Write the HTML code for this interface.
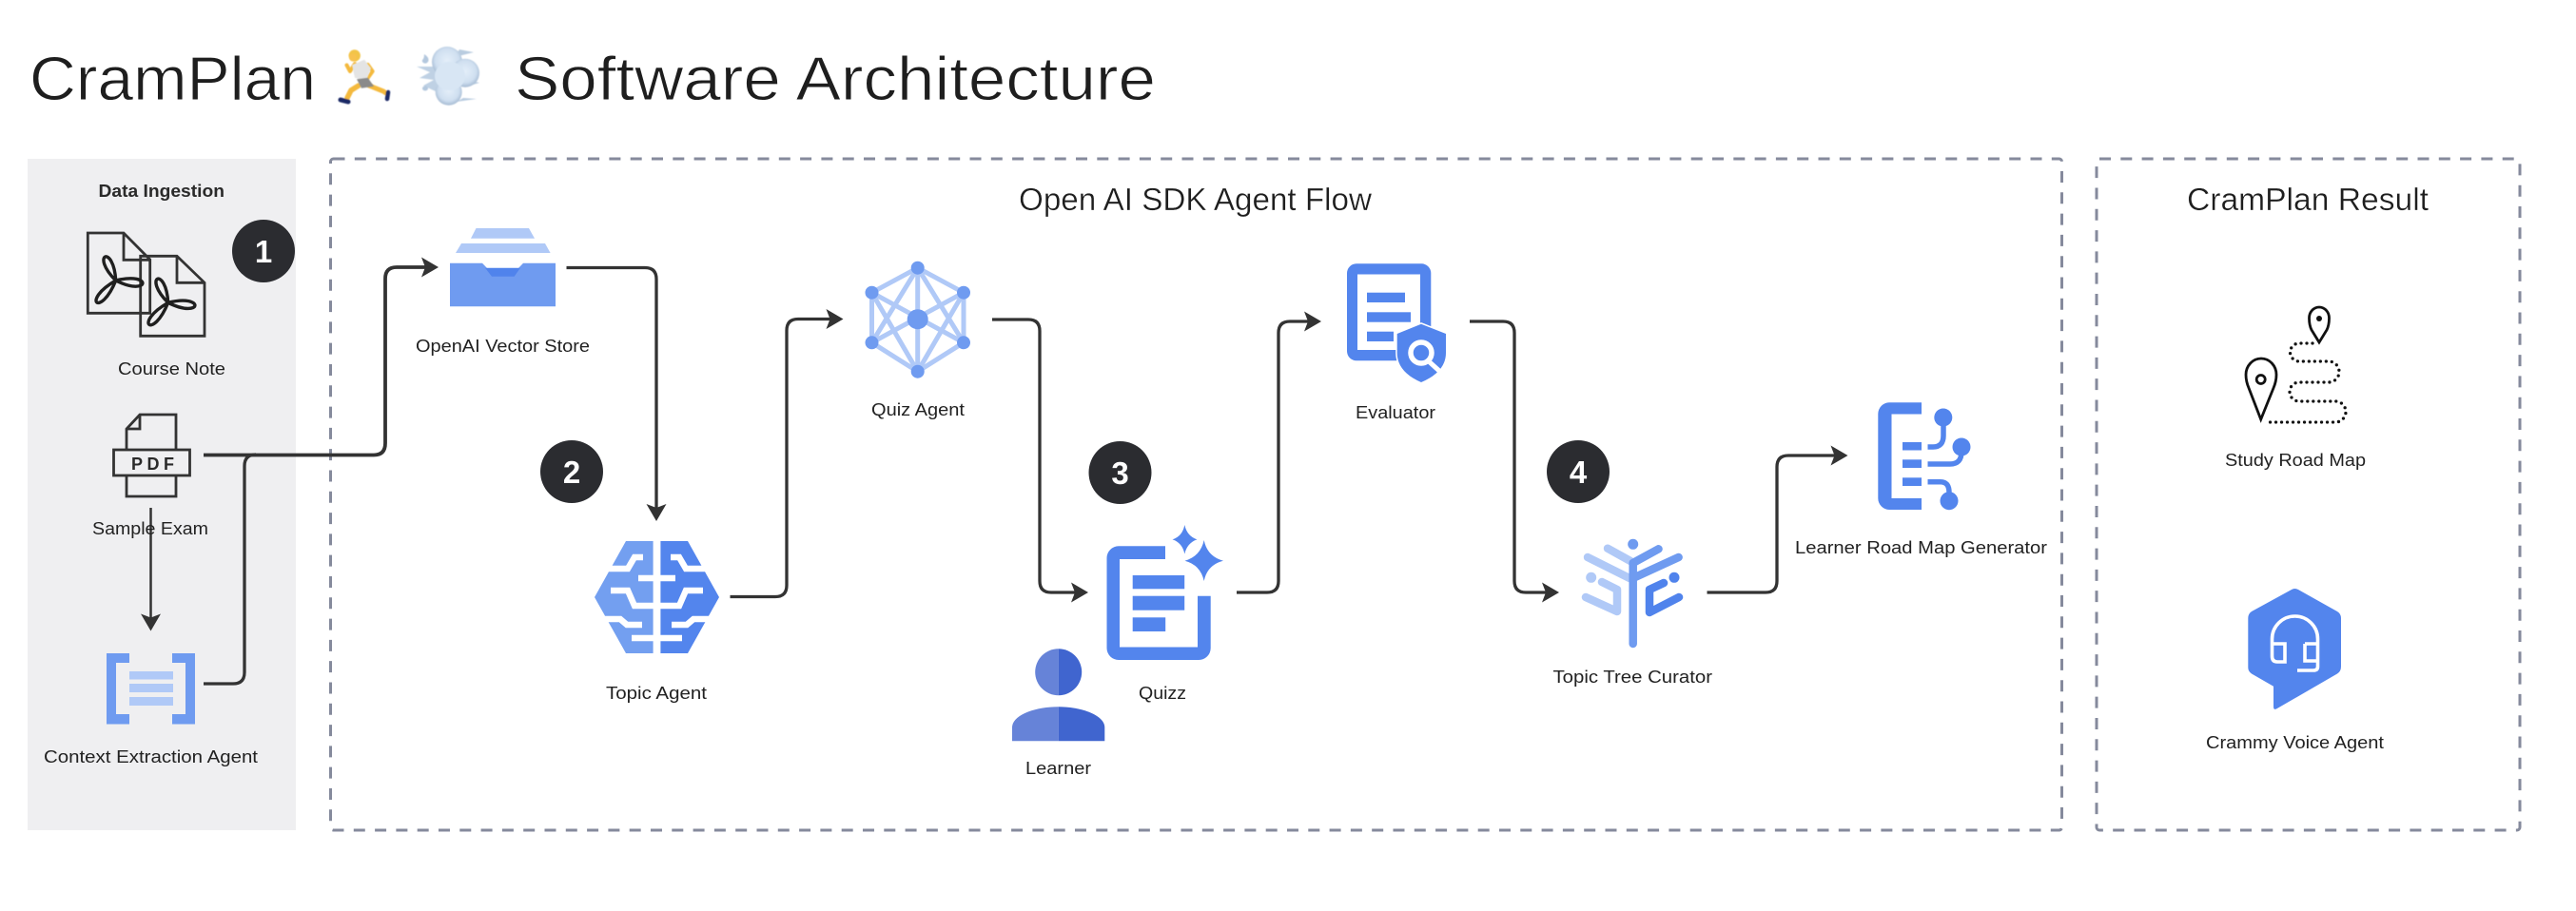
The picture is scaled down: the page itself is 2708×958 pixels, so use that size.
<!DOCTYPE html>
<html><head><meta charset="utf-8"><title>CramPlan Software Architecture</title>
<style>
html,body{margin:0;padding:0;background:#fff;width:2708px;height:958px;overflow:hidden}
svg{display:block}
text{font-family:"Liberation Sans",sans-serif}
.l{font-size:18.5px;fill:#222}
.h{font-size:33px;fill:#1e1e1e;stroke:#fff;stroke-width:.35px}
.t{font-size:65px;fill:#1e1e1e;stroke:#fff;stroke-width:.9px}
.n{font-size:33px;font-weight:bold;fill:#fff;text-anchor:middle}
.c{fill:none;stroke:#333;stroke-width:3.3}
.a{fill:#333}
</style></head><body>
<svg width="2708" height="958" viewBox="0 0 2708 958" xmlns="http://www.w3.org/2000/svg">
<defs>
<radialGradient id="cl" cx="50%" cy="45%" r="55%"><stop offset="0" stop-color="#e4eef9"/><stop offset=".7" stop-color="#cfdff0"/><stop offset="1" stop-color="#a5bad2"/></radialGradient>
<filter id="sf" x="-10%" y="-10%" width="120%" height="120%"><feGaussianBlur stdDeviation=".5"/></filter>
</defs>
<rect width="2708" height="958" fill="#fff"/>

<!-- Title -->
<text class="t" x="31" y="105" textLength="301" lengthAdjust="spacingAndGlyphs">CramPlan</text>
<text class="t" x="541" y="105" textLength="674" lengthAdjust="spacingAndGlyphs">Software Architecture</text>

<!-- Runner -->
<g stroke-linecap="round" stroke-linejoin="round" fill="none" filter="url(#sf)">
<path d="M388,90 L403,96 L406,98" stroke="#f4b93c" stroke-width="5"/>
<path d="M377,90 L369,95 L365,103" stroke="#f4b93c" stroke-width="5.500"/>
<path d="M373,67 L368,75 L364.500,68.500" stroke="#f4b93c" stroke-width="4"/>
<path d="M386.700,68 L391.700,75 L386.700,82" stroke="#f4b93c" stroke-width="4"/>
<path d="M358,105 L366,107" stroke="#1b2a66" stroke-width="5"/>
<path d="M408,97 L407,104" stroke="#1b2a66" stroke-width="4.500"/>
</g>
<g filter="url(#sf)">
<polygon points="370,68.300 383,62.700 390,71.700 385,85 373,81.700" fill="#e4e4e4"/>
<polygon points="375,83.300 386.700,81.700 393,90.700 380,92.700" fill="#8a8a8a"/>
<circle cx="372.700" cy="58.500" r="6.200" fill="#f2c447"/>
<circle cx="371" cy="60.500" r="4" fill="#f7c24f"/>
</g>

<!-- Cloud -->
<g filter="url(#sf)">
<path d="M483,52 L498,55 L478,60 Z M487,103 L501,104 L480,107 Z M500,86 L504,87 L494,90 Z" fill="#b9cce0"/>
<path d="M462,70 L438,70 L452,76 L441,82 L456,84 L445,90 L462,98 Z" fill="#bfd1e4"/>
<circle cx="470" cy="65" r="16" fill="url(#cl)"/>
<circle cx="471.700" cy="96.700" r="14" fill="url(#cl)"/>
<circle cx="489" cy="76.700" r="15" fill="url(#cl)"/>
<ellipse cx="473" cy="80" rx="16" ry="15" fill="#d8e6f4"/>
<path d="M446,57 q5,3 4.500,7 q-2,4 -5.500,2 q-2.500,-2 0,-4 q1,-2 1,-5 Z" fill="#b4c8de"/>
<ellipse cx="447" cy="93" rx="3" ry="2.500" fill="#b4c8de"/>
</g>

<!-- Containers -->
<rect x="29" y="167" width="282" height="706" fill="#efeff1"/>
<rect x="347.500" y="167" width="1820" height="706" rx="3" fill="none" stroke="#858a9c" stroke-width="3" stroke-dasharray="12 10.300"/>
<rect x="2204" y="167" width="445" height="706" rx="3" fill="none" stroke="#858a9c" stroke-width="3" stroke-dasharray="12 10.300"/>

<text x="103.500" y="207" font-size="18" font-weight="bold" fill="#2a2a2a" textLength="132.500" lengthAdjust="spacingAndGlyphs">Data Ingestion</text>
<text class="h" x="1071" y="221" textLength="371" lengthAdjust="spacingAndGlyphs">Open AI SDK Agent Flow</text>
<text class="h" x="2299" y="221" textLength="254" lengthAdjust="spacingAndGlyphs">CramPlan Result</text>

<!-- PDFs -->
<g fill="none" stroke="#333" stroke-width="2.800" stroke-linejoin="miter">
<path d="M92.300,245 H130 L157.700,273 V329.300 H92.300 Z M130,245 V273.300 H157.700"/>
<path d="M147.700,269.300 H186 L215,297.300 V353.300 H147.700 Z M186,269.300 V297.300 H215"/>
</g>
<g fill="none" stroke="#1f1f1f" stroke-width="3.400" stroke-linejoin="round">
<path d="M121.700,295 c-2.200,-39 -27.600,-27.600 0,0 c36.200,17.900 39,-9.900 0,0 c-16,39.800 -37.200,21.400 0,0"/>
<path d="M176.700,318.300 c-2.200,-39 -27.600,-27.600 0,0 c36.200,17.900 39,-9.900 0,0 c-16,39.800 -37.200,21.400 0,0"/>
</g>

<!-- Sample PDF -->
<g fill="none" stroke="#333" stroke-width="2.800">
<path d="M133,473 V451 L147,436 H185 V473 M133,500 V522 H185 V500"/>
<path d="M133,451 H147 V436"/>
<rect x="119.500" y="473" width="80" height="27"/>
</g>
<text x="138" y="494" font-size="18" font-weight="bold" fill="#2a2a2a" textLength="45" lengthAdjust="spacing">PDF</text>

<!-- Context extraction -->
<g fill="#6f9bf0">
<path d="M112,687 H136 V697 H122 V751 H136 V761.500 H112 Z"/>
<path d="M205,687 H181 V697 H195 V751 H181 V761.500 H205 Z"/>
</g>
<g fill="#b0c9f7"><rect x="136" y="706" width="46" height="8.500"/><rect x="136" y="719" width="46" height="9"/><rect x="136" y="733" width="46" height="9"/></g>

<!-- Vector store -->
<polygon points="500.500,240 556,240 562,250.700 495,250.700" fill="#b0c9f7"/>
<polygon points="485,256 573,256 578.600,266 479,266" fill="#b0c9f7"/>
<polygon points="473,276.700 507,276.700 512,282 545,282 550,276.700 584,276.700 584,322.300 473,322.300" fill="#6f9bf0"/>
<polygon points="510,281.700 547,281.700 540.600,290.700 517,290.700" fill="#5083ec"/>

<!-- Quiz agent -->
<g stroke="#b0c9f7" stroke-width="5">
<polygon fill="none" points="964.700,281.700 1013,307.700 1013,360.300 964.700,390.700 916.500,360.300 916.500,307.700"/>
<path d="M964.700,281.700 V390.700 M964.700,281.700 L916.500,360.300 M964.700,281.700 L1013,360.300 M964.700,390.700 L916.500,307.700 M964.700,390.700 L1013,307.700 M916.500,307.700 L1013,360.300 M1013,307.700 L916.500,360.300"/>
</g>
<g fill="#6f9bf0"><circle cx="964.700" cy="281.700" r="7"/><circle cx="964.700" cy="390.700" r="7"/><circle cx="916.500" cy="307.700" r="7"/><circle cx="916.500" cy="360.300" r="7"/><circle cx="1013" cy="307.700" r="7"/><circle cx="1013" cy="360.300" r="7"/><ellipse cx="964.700" cy="335.700" rx="11" ry="10.500"/></g>

<!-- Topic agent brain -->
<polygon points="686.600,569 658,569 625,628 658,687 686.600,687" fill="#739ff0"/>
<polygon points="694.400,569 723,569 756,628 723,687 694.400,687" fill="#5385ed"/>
<g fill="none" stroke="#fff" stroke-width="6.500" stroke-linejoin="miter">
<path d="M640,598 H660 L667,586 H676"/>
<path d="M671,608 H688"/>
<path d="M642,621 H660 L667,637 H688"/>
<path d="M635,651 H652 L659,657 H675"/>
<path d="M664,671 H688"/>
<path d="M741,598 H721 L714,586 H705"/>
<path d="M710,608 H693"/>
<path d="M739,621 H721 L714,637 H693"/>
<path d="M746,651 H729 L722,657 H706"/>
<path d="M717,671 H693"/>
</g>

<!-- Quizz -->
<g fill="#5385ed">
<path d="M1225,574.300 H1176 A12.500,12.500 0 0 0 1163.500,586.800 V681.500 A12.500,12.500 0 0 0 1176,694 H1260 A12.500,12.500 0 0 0 1272.700,681.500 V626.700 H1259 V680.500 H1177 V588 H1225 Z"/>
<rect x="1190.700" y="605" width="54.500" height="14.300"/>
<rect x="1190.700" y="626.700" width="54.500" height="15"/>
<rect x="1190.700" y="649.300" width="34.500" height="14.700"/>
<path d="M1245.300,552 Q1248,564 1258.500,567.300 Q1248,571 1245.300,582.500 Q1243,571 1232.500,567.300 Q1243,564 1245.300,552 Z"/>
<path d="M1265.700,568 Q1269,585 1286,589.700 Q1269,594 1265.700,611 Q1262,594 1245.500,589.700 Q1262,585 1265.700,568 Z"/>
</g>

<!-- Learner -->
<path d="M1112.700,682.200 A24.500,24.500 0 0 0 1112.700,731.200 Z" fill="#6683d8"/>
<path d="M1112.700,682.200 A24.500,24.500 0 0 1 1112.700,731.200 Z" fill="#4065cf"/>
<path d="M1064,779.300 V765 C1064,752 1088,743.300 1112.700,743.300 V779.300 Z" fill="#6683d8"/>
<path d="M1161.300,779.300 V765 C1161.300,752 1137,743.300 1112.700,743.300 V779.300 Z" fill="#4065cf"/>

<!-- Evaluator -->
<g fill="#5385ed">
<path d="M1426,277.300 H1494 A10,10 0 0 1 1504.300,287.300 V345 H1493 V288.500 H1427 V368 H1470 V379.300 H1426 A10,10 0 0 1 1416,369.300 V287.300 A10,10 0 0 1 1426,277.300 Z"/>
<rect x="1437" y="307.700" width="40" height="10.300"/>
<rect x="1437" y="328.300" width="46" height="10.400"/>
<rect x="1437" y="348.700" width="28" height="10.300"/>
<path d="M1494,340.700 L1520,351 V371 Q1520,391 1494,402 Q1468.700,391 1468.700,371 V351 Z" stroke="#fff" stroke-width="3" paint-order="stroke"/>
</g>
<circle cx="1494" cy="371" r="11" fill="none" stroke="#fff" stroke-width="5.500"/>
<path d="M1502,380 L1513,390" stroke="#fff" stroke-width="5"/>

<!-- Topic tree curator -->
<g fill="none" stroke-linecap="round" stroke-linejoin="round" stroke-width="8.500">
<path d="M1690,576.700 L1714,590 M1669,586 L1713,608" stroke="#b0c9f7"/>
<path d="M1684,612 L1700,620 V643 L1667,628" stroke="#b0c9f7"/>
<path d="M1716.700,592 V677 M1716.700,592 L1743.500,577.300 M1716.700,608 L1764.600,586" stroke="#6f9bf0"/>
<path d="M1749,613 L1734,620 V644 L1765,628" stroke="#5083ec"/>
</g>
<circle cx="1716.700" cy="572.300" r="5.500" fill="#6f9bf0"/>
<circle cx="1672.700" cy="607.300" r="5.500" fill="#b0c9f7"/>
<circle cx="1760" cy="607.300" r="5.500" fill="#5083ec"/>

<!-- Generator -->
<g fill="#5385ed">
<path d="M2020,423.300 H1986 A12,12 0 0 0 1974.300,435.300 V524 A12,12 0 0 0 1986,536 H2020 V524 H1988.500 V435.500 H2020 Z"/>
<rect x="2000" y="465" width="20" height="8.500"/><rect x="2000" y="483.300" width="20" height="8.700"/><rect x="2000" y="502.300" width="20" height="8.700"/>
<circle cx="2042.800" cy="439" r="9.500"/><circle cx="2062" cy="470" r="9.500"/><circle cx="2049" cy="526.700" r="9.500"/>
</g>
<g fill="none" stroke="#5385ed" stroke-width="5.500">
<path d="M2026.500,470 H2032 Q2043,470 2043,458 V440"/>
<path d="M2026.500,488 H2050 Q2062,488 2062,475"/>
<path d="M2026.500,506.700 H2040 Q2049,506.700 2049,518"/>
</g>

<!-- Study road map -->
<g fill="none" stroke="#111" stroke-width="2.800">
<path d="M2438,360 L2430,347 Q2427.500,342 2427.500,334.500 A10.500,11.500 0 0 1 2448.500,334.500 Q2448.500,342 2446,347 Z"/>
<path d="M2376.700,441 L2364,408 Q2361,401 2361,394 A16,17 0 0 1 2393,394 Q2393,401 2390,408 Z"/>
<circle cx="2376.700" cy="399" r="4.500"/>
<path d="M2431,361 H2417 A9.500,9.500 0 0 0 2417,380 H2448 A11,11 0 0 1 2448,402 H2417 A10,10 0 0 0 2417,422 H2455 A11,11 0 0 1 2455,444 H2382" stroke-width="3.300" stroke-linecap="round" stroke-dasharray="0 6"/>
</g>
<circle cx="2438" cy="335" r="3" fill="#111"/>

<!-- Voice agent -->
<path d="M2409,620 Q2412.300,618 2416,620 L2457,643 Q2461,645.500 2461,650 V701 Q2461,706 2457,708.500 L2393,745.500 Q2390,747 2390,743 V721.700 L2367,708.500 Q2363.300,706 2363.300,702 V650 Q2363.300,645.500 2367,643 Z" fill="#5385ed"/>
<g fill="none" stroke="#fff" stroke-width="3.600">
<path d="M2388.500,690 V672 A23.800,23.800 0 0 1 2436.500,672 V701 Q2436.500,705 2432,705 H2415"/>
<path d="M2388.500,677 H2402 V696 H2394 Q2388.500,696 2388.500,690"/>
<path d="M2423,677 H2436.500 M2423,677 V695 H2436.500"/>
</g>

<!-- Connectors -->
<path class="c" style="stroke-width:3.800" d="M214,478.500 H393 Q405,478.500 405,466 V293 Q405,281 417,281 H450"/>
<polygon class="a" points="461,281 443,270.500 447,281 443,291.500"/>
<path class="c" d="M214,719 H245 Q257,719 257,707 V490 Q257,478 269,478"/>
<path class="c" style="stroke-width:2.500" d="M158.500,534 V652"/>
<polygon class="a" points="158.500,663.500 148,645.500 158.500,649.500 169,645.500"/>
<path class="c" d="M595.500,281.500 H678 Q690,281.500 690,293.500 V538"/>
<polygon class="a" points="690,548 679.500,530 690,534 700.500,530"/>
<path class="c" d="M767.500,627.500 H815 Q827,627.500 827,615.500 V347.500 Q827,335.500 839,335.500 H876"/>
<polygon class="a" points="886.500,335.500 868.500,325 872.500,335.500 868.500,346"/>
<path class="c" d="M1043,336 H1081 Q1093,336 1093,348 V611 Q1093,623 1105,623 H1133"/>
<polygon class="a" points="1144,623 1126,612.500 1130,623 1126,633.500"/>
<path class="c" d="M1300,623 H1332 Q1344,623 1344,611 V350 Q1344,338 1356,338 H1378"/>
<polygon class="a" points="1389,338 1371,327.500 1375,338 1371,348.500"/>
<path class="c" d="M1545,338 H1580 Q1592,338 1592,350 V611 Q1592,623 1604,623 H1628"/>
<polygon class="a" points="1639,623 1621,612.500 1625,623 1621,633.500"/>
<path class="c" d="M1794.500,623 H1856 Q1868,623 1868,611 V491 Q1868,479 1880,479 H1932"/>
<polygon class="a" points="1942.500,479 1924.500,468.500 1928.500,479 1924.500,489.500"/>

<!-- Badges -->
<g fill="#2b2c30"><circle cx="277" cy="264" r="33"/><circle cx="601" cy="496" r="33"/><circle cx="1177.500" cy="497" r="33"/><circle cx="1659" cy="496" r="33"/></g>
<text class="n" x="277" y="276">1</text>
<text class="n" x="601" y="508">2</text>
<text class="n" x="1177.500" y="509">3</text>
<text class="n" x="1659" y="508">4</text>

<!-- Labels -->
<text class="l" x="124" y="394" textLength="113" lengthAdjust="spacingAndGlyphs">Course Note</text>
<text class="l" x="97" y="562" textLength="122" lengthAdjust="spacingAndGlyphs">Sample Exam</text>
<text class="l" x="46" y="802" textLength="225" lengthAdjust="spacingAndGlyphs">Context Extraction Agent</text>
<text class="l" x="437" y="370" textLength="183" lengthAdjust="spacingAndGlyphs">OpenAI Vector Store</text>
<text class="l" x="916" y="437" textLength="98" lengthAdjust="spacingAndGlyphs">Quiz Agent</text>
<text class="l" x="637" y="735" textLength="106" lengthAdjust="spacingAndGlyphs">Topic Agent</text>
<text class="l" x="1197" y="735" textLength="50" lengthAdjust="spacingAndGlyphs">Quizz</text>
<text class="l" x="1078" y="814" textLength="69" lengthAdjust="spacingAndGlyphs">Learner</text>
<text class="l" x="1425" y="440" textLength="84" lengthAdjust="spacingAndGlyphs">Evaluator</text>
<text class="l" x="1632.500" y="718" textLength="167.500" lengthAdjust="spacingAndGlyphs">Topic Tree Curator</text>
<text class="l" x="1887" y="582" textLength="265" lengthAdjust="spacingAndGlyphs">Learner Road Map Generator</text>
<text class="l" x="2339" y="490" textLength="148" lengthAdjust="spacingAndGlyphs">Study Road Map</text>
<text class="l" x="2319" y="787" textLength="187" lengthAdjust="spacingAndGlyphs">Crammy Voice Agent</text>
</svg>
</body></html>
